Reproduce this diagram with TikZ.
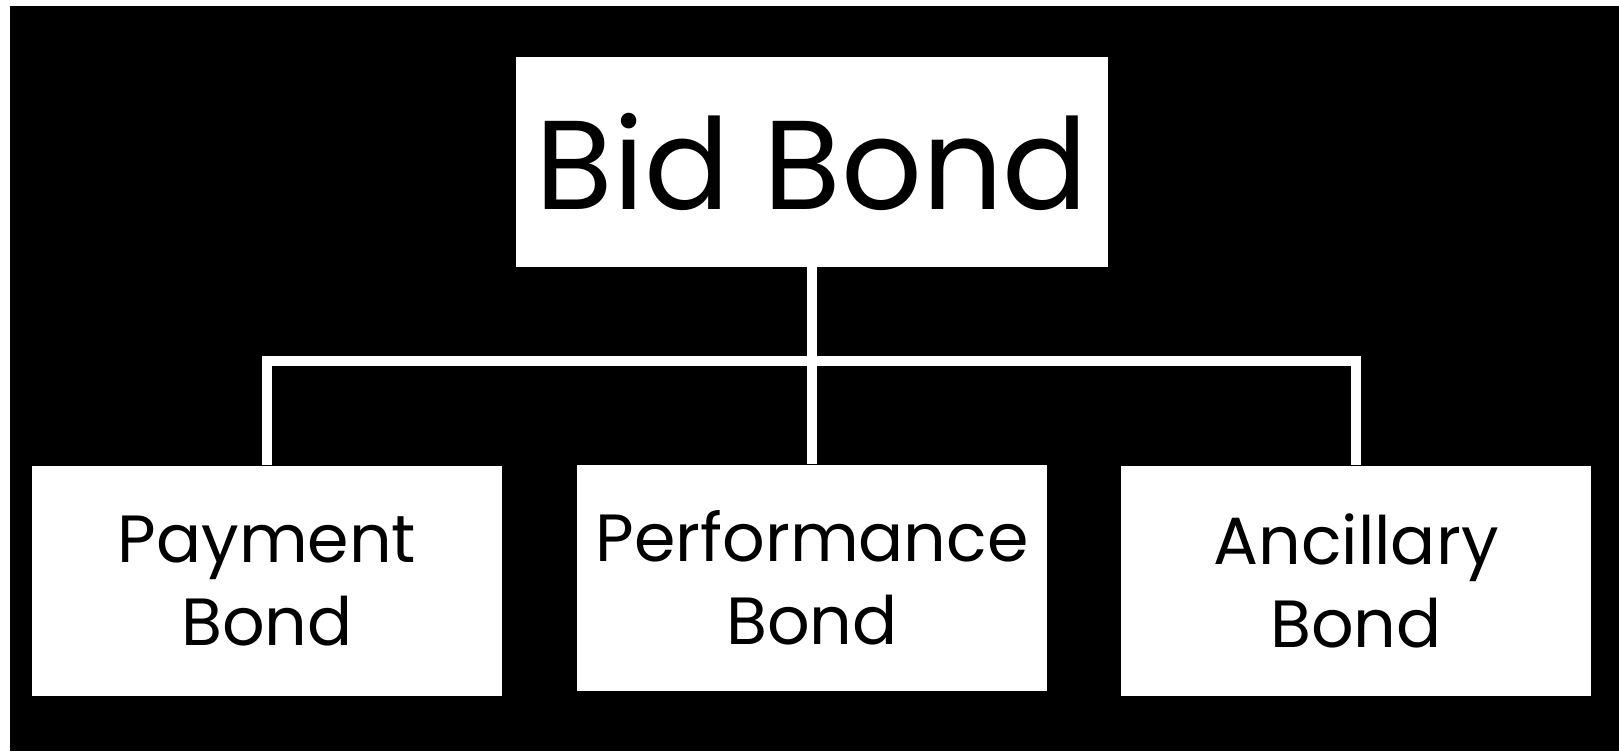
\documentclass[tikz,border=0pt]{standalone}
\usepackage{fontspec}
\setmainfont{Poppins}
\begin{document}
\begin{tikzpicture}[x=0.02cm,y=-0.02cm,
  box/.style={fill=white,draw=none,inner sep=0pt,align=center,text=black},
  topbox/.style={box,minimum width=11.84cm,minimum height=4.2cm,font=\fontsize{72}{86}\selectfont},
  leafbox/.style={box,minimum width=9.4cm,minimum height=4.62cm,font=\fontsize{38}{47}\selectfont},
  conn/.style={draw=white,line width=6.2pt,line join=miter}]
\useasboundingbox (0,0) rectangle (1619,751);
\fill[white] (0,0) rectangle (1619,751);
\fill[black] (10,6) rectangle (1619,751);
\coordinate (bar) at (812,361);
\node[topbox] (top) at (812,162) {Bid Bond};
\node[leafbox] (pay) at (267,581) {Payment\\Bond};
\node[leafbox,minimum height=4.54cm] (perf) at (812,578) {Performance\\Bond};
\node[leafbox] (anc) at (1356,581) {Ancillary\\Bond};
\draw[conn] (top.south) -- (perf.north);
\draw[conn] (pay.north) |- (bar -| anc.north) -- (anc.north);
\end{tikzpicture}
\end{document}
